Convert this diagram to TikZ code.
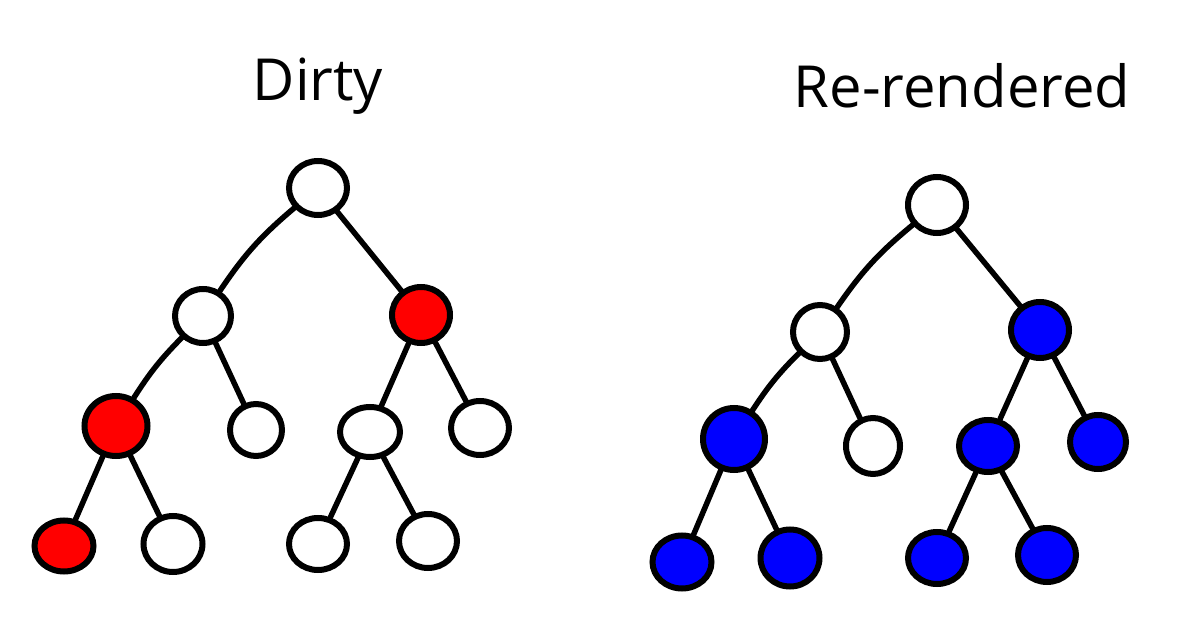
\documentclass[tikz,border=0pt]{standalone}
\usepackage{fontspec}
\setmainfont{Open Sans}
\usetikzlibrary{shapes.geometric}
\definecolor{dirtyred}{RGB}{255,0,0}
\definecolor{renderblue}{RGB}{0,0,255}
\tikzset{
  tn/.style={ellipse, draw=black, line width=6pt, inner sep=0pt},
  wn/.style={tn, fill=white},
  rn/.style={tn, fill=dirtyred},
  bn/.style={tn, fill=renderblue},
  edge/.style={draw=black, line width=5.5pt, line cap=round},
  title/.style={font=\fontsize{58}{60}\selectfont, text=black, inner sep=0pt}
}
\begin{document}
\begin{tikzpicture}[x=1pt,y=-1pt]
\useasboundingbox (0,0) rectangle (1200,636);
\fill[white] (0,0) rectangle (1200,636);
% titles
\node[title] (t1) at (318,86) {Dirty};
\node[title] (t2) at (962,86) {Re-rendered};
% left tree
\node[wn, minimum width=58pt, minimum height=54pt] (r) at (318,188) {};
\node[wn, minimum width=56pt, minimum height=54pt] (a) at (203,316) {};
\node[rn, minimum width=58pt, minimum height=56pt] (b) at (421,315) {};
\node[rn, minimum width=63pt, minimum height=60pt] (c) at (116,426) {};
\node[wn, minimum width=52pt, minimum height=52pt] (d) at (256,430) {};
\node[wn, minimum width=60pt, minimum height=50pt] (e) at (370,432) {};
\node[wn, minimum width=58pt, minimum height=54pt] (f) at (480,428) {};
\node[rn, minimum width=59pt, minimum height=51pt] (g) at (64,546) {};
\node[wn, minimum width=59pt, minimum height=56pt] (h) at (173,544) {};
\node[wn, minimum width=58pt, minimum height=52pt] (i) at (318,544) {};
\node[wn, minimum width=58pt, minimum height=54pt] (j) at (428,541) {};
% right tree
\node[wn, minimum width=58pt, minimum height=56pt] (R) at (937,205) {};
\node[wn, minimum width=54pt, minimum height=54pt] (A) at (820,332) {};
\node[bn, minimum width=58pt, minimum height=56pt] (B) at (1040,330) {};
\node[bn, minimum width=62pt, minimum height=62pt] (C) at (734,439) {};
\node[wn, minimum width=54pt, minimum height=56pt] (D) at (873,446) {};
\node[bn, minimum width=58pt, minimum height=52pt] (E) at (988,446) {};
\node[bn, minimum width=56pt, minimum height=54pt] (F) at (1098,442) {};
\node[bn, minimum width=59pt, minimum height=53pt] (G) at (682,562) {};
\node[bn, minimum width=59pt, minimum height=57pt] (H) at (790,558) {};
\node[bn, minimum width=58pt, minimum height=52pt] (I) at (937,558) {};
\node[bn, minimum width=58pt, minimum height=54pt] (J) at (1047,555) {};
% left edges
\draw[edge] (r) to[bend right=8] (a);
\draw[edge] (r) -- (b);
\draw[edge] (a) to[bend right=6] (c);
\draw[edge] (a) -- (d);
\draw[edge] (b) -- (e);
\draw[edge] (b) -- (f);
\draw[edge] (c) -- (g);
\draw[edge] (c) -- (h);
\draw[edge] (e) -- (i);
\draw[edge] (e) -- (j);
% right edges
\draw[edge] (R) to[bend right=8] (A);
\draw[edge] (R) -- (B);
\draw[edge] (A) to[bend right=6] (C);
\draw[edge] (A) -- (D);
\draw[edge] (B) -- (E);
\draw[edge] (B) -- (F);
\draw[edge] (C) -- (G);
\draw[edge] (C) -- (H);
\draw[edge] (E) -- (I);
\draw[edge] (E) -- (J);
\end{tikzpicture}
\end{document}
